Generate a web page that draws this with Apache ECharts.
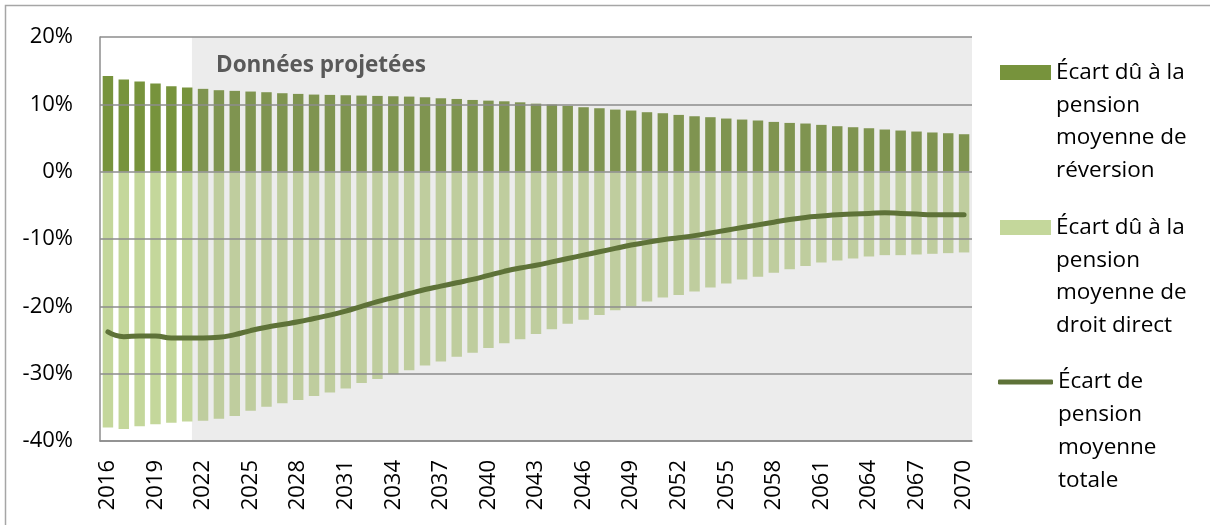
<!DOCTYPE html>
<html><head><meta charset="utf-8">
<script src="https://cdn.jsdelivr.net/npm/echarts@6/dist/echarts.min.js"></script>
<style>html,body{margin:0;padding:0;background:#fff}#c{width:1210px;height:525px}</style>
</head><body><div id="c"></div>
<script>
// ---- data ----
const years = ['2016','2017','2018','2019','2020','2021','2022','2023','2024','2025','2026','2027','2028','2029','2030','2031','2032','2033','2034','2035','2036','2037','2038','2039','2040','2041','2042','2043','2044','2045','2046','2047','2048','2049','2050','2051','2052','2053','2054','2055','2056','2057','2058','2059','2060','2061','2062','2063','2064','2065','2066','2067','2068','2069','2070'];
const projectionStart = '2022';
const projectionLabel = 'Données projetées';
const ecartReversion = [14.2,13.7,13.4,13.1,12.7,12.5,12.3,12.1,12.0,11.9,11.8,11.65,11.55,11.45,11.4,11.35,11.3,11.25,11.2,11.15,11.05,10.9,10.8,10.65,10.55,10.45,10.3,10.1,9.97,9.77,9.57,9.42,9.22,9.08,8.83,8.68,8.43,8.23,8.09,7.89,7.74,7.6,7.39,7.24,7.15,6.95,6.75,6.6,6.45,6.26,6.11,5.96,5.82,5.71,5.56];
const ecartDroitDirect = [-38.0,-38.2,-37.8,-37.5,-37.3,-37.1,-37.0,-36.7,-36.3,-35.5,-34.9,-34.4,-33.9,-33.3,-32.8,-32.2,-31.4,-30.8,-30.1,-29.5,-28.8,-28.2,-27.5,-26.9,-26.2,-25.5,-24.9,-24.1,-23.4,-22.6,-22.0,-21.3,-20.6,-20.0,-19.3,-18.7,-18.3,-17.8,-17.2,-16.6,-16.0,-15.6,-15.0,-14.5,-14.0,-13.5,-13.2,-12.9,-12.6,-12.4,-12.4,-12.3,-12.2,-12.1,-12.0];
const ecartTotal = [-23.8,-24.5,-24.4,-24.4,-24.7,-24.7,-24.7,-24.6,-24.2,-23.6,-23.1,-22.7,-22.3,-21.8,-21.3,-20.7,-20.0,-19.3,-18.7,-18.1,-17.5,-17.0,-16.5,-16.0,-15.4,-14.8,-14.3,-13.9,-13.4,-12.9,-12.4,-11.9,-11.4,-10.9,-10.5,-10.1,-9.8,-9.5,-9.1,-8.7,-8.3,-7.9,-7.5,-7.1,-6.8,-6.6,-6.4,-6.3,-6.2,-6.1,-6.2,-6.3,-6.4,-6.4,-6.4];
const yTicks = [-40,-30,-20,-10,0,10,20];
const seriesNames = ['Écart dû à la pension moyenne de réversion','Écart dû à la pension moyenne de droit direct','Écart de pension moyenne totale'];
const legendLines = [
  ['Écart dû à la','pension','moyenne de','réversion'],
  ['Écart dû à la','pension','moyenne de','droit direct'],
  ['Écart de','pension','moyenne','totale']
];

// ---- chart ----
const FONT = 'Open Sans';
const FS = 22;
const LFS = 22.5;
const LH = 32.7;
const C = {
  revHist: '#77933c', revProj: '#7f9450',
  ddHist: '#c4d79b', ddProj: '#bfcd9e',
  total: '#5e7238', grid: '#8c8c8c', shade: '#ececec'
};
const nProj = years.indexOf(projectionStart);
const chart = echarts.init(document.getElementById('c'), null, {renderer:'canvas'});
const iconCenters = [72.5, 227.5, 382];
const iconColors = [C.revHist, C.ddHist, C.total];
const legends = seriesNames.map((n, i) => {
  const isLine = i === 2;
  const ih = isLine ? 5 : 15;
  return {
    data: [n], orient: 'vertical',
    left: isLine ? 998 : 1000,
    top: iconCenters[i] - 3.5 * LH - ih / 2 + ih / 2,
    padding: 0,
    itemWidth: isLine ? 55 : 51, itemHeight: ih, itemGap: 0,
    selectedMode: false,
    icon: isLine ? 'roundRect' : 'rect',
    itemStyle: {color: iconColors[i], borderWidth: 0},
    formatter: () => '\n\n\n' + legendLines[i].join('\n'),
    textStyle: {fontFamily: FONT, fontSize: LFS, lineHeight: LH, color: '#000'}
  };
});
chart.setOption({
  animation: false,
  textStyle: {fontFamily: FONT},
  graphic: [{type:'rect', silent:true, z:-10, shape:{x:5.5,y:5.5,width:1230,height:540}, style:{fill:'none', stroke:'#a6a6a6', lineWidth:1.5}}],
  title: {text: projectionLabel, left: 211, top: 49, padding: 5,
    textStyle: {fontFamily: FONT, fontSize: 22.5, fontWeight: 'bold', color: '#595959'}},
  grid: {left: 100, right: 238, top: 37, bottom: 84},
  legend: legends,
  xAxis: [
    {type:'category', data: years, boundaryGap: true, z: 3,
     axisLine: {onZero: false, lineStyle: {color: C.grid, width: 1.5}},
     axisTick: {show: false},
     axisLabel: {interval: 2, rotate: 90, margin: 19, fontSize: FS, color: '#000', fontFamily: FONT}},
    {type:'value', min: 0, max: years.length, show: false}
  ],
  yAxis: [
    {type:'value', min: yTicks[0], max: yTicks[yTicks.length-1], interval: yTicks[1]-yTicks[0], z: 3,
     axisLine: {show: true, lineStyle: {color: C.grid, width: 1.5}},
     axisTick: {show: false},
     axisLabel: {formatter: '{value}%', margin: 27, fontSize: FS, color: '#000', fontFamily: FONT},
     splitLine: {lineStyle: {color: C.grid, width: 1.5}}},
    {type:'value', min: yTicks[0], max: yTicks[yTicks.length-1], show: false}
  ],
  series: [
    {type:'line', name:'_proj', xAxisIndex:1, yAxisIndex:1, data: [], silent: true,
     markArea: {silent: true, z: 1, itemStyle: {color: C.shade},
       data: [[{coord: [nProj - 0.2, 20.15]}, {coord: [years.length + 0.32, -40.9]}]]}},
    {type:'bar', name: seriesNames[0], stack: 's', data: ecartReversion, barWidth: '66%', z: 2,
     itemStyle: {color: p => p.dataIndex >= nProj ? C.revProj : C.revHist}},
    {type:'bar', name: seriesNames[1], stack: 's', data: ecartDroitDirect, barWidth: '66%', z: 2,
     itemStyle: {color: p => p.dataIndex >= nProj ? C.ddProj : C.ddHist}},
    {type:'line', name: seriesNames[2], data: ecartTotal, smooth: true, symbol: 'none', z: 4,
     itemStyle: {color: C.total},
     lineStyle: {color: C.total, width: 5, cap: 'round'}}
  ]
});
</script></body></html>
